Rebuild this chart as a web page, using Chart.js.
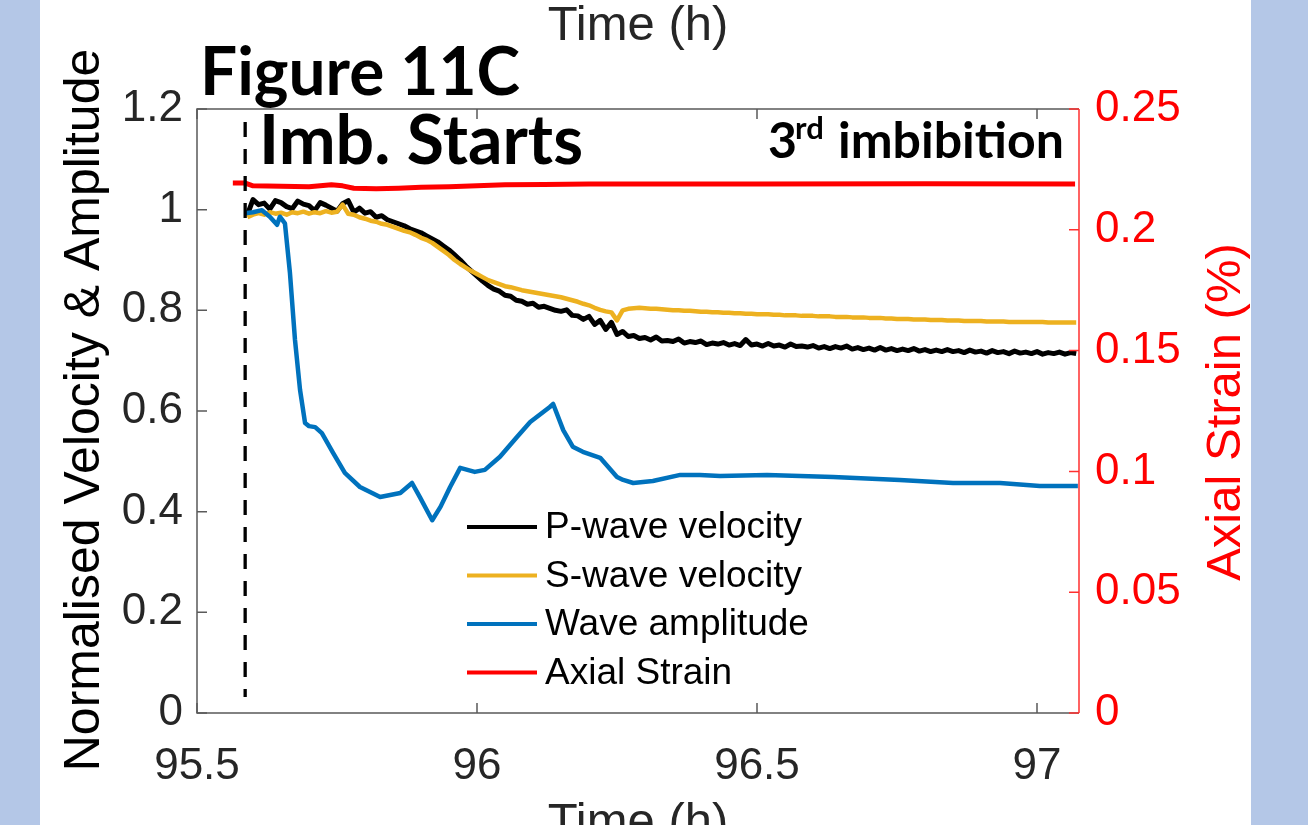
<!DOCTYPE html>
<html>
<head>
<meta charset="utf-8">
<title>Figure 11C</title>
<script src="https://cdn.jsdelivr.net/npm/chart.js@4.4.1/dist/chart.umd.min.js"></script>
<style>
  html, body { margin: 0; padding: 0; background: #fff; }
  #wrap { width: 1308px; height: 825px; }
</style>
</head>
<body>
<div id="wrap"><canvas id="myChart" width="1308" height="825"></canvas></div>
<script>
/* data */

// shared time base (h) for the P- and S-wave velocity records
const sampleTimes = [
  95.59, 95.60, 95.61, 95.62, 95.63, 95.64, 95.65, 95.66, 95.67, 95.68,
  95.69, 95.70, 95.71, 95.72, 95.73, 95.74, 95.75, 95.76, 95.77, 95.78,
  95.79, 95.80, 95.81, 95.82, 95.83, 95.84, 95.85, 95.86, 95.87, 95.88,
  95.89, 95.90, 95.91, 95.92, 95.93, 95.94, 95.95, 95.96, 95.97, 95.98,
  95.99, 96.00, 96.01, 96.02, 96.03, 96.04, 96.05, 96.06, 96.07, 96.08,
  96.09, 96.10, 96.11, 96.12, 96.13, 96.14, 96.15, 96.16, 96.17, 96.18,
  96.19, 96.20, 96.21, 96.22, 96.23, 96.24, 96.25, 96.26, 96.27, 96.28,
  96.29, 96.30, 96.31, 96.32, 96.33, 96.34, 96.35, 96.36, 96.37, 96.38,
  96.39, 96.40, 96.41, 96.42, 96.43, 96.44, 96.45, 96.46, 96.47, 96.48,
  96.49, 96.50, 96.51, 96.52, 96.53, 96.54, 96.55, 96.56, 96.57, 96.58,
  96.59, 96.60, 96.61, 96.62, 96.63, 96.64, 96.65, 96.66, 96.67, 96.68,
  96.69, 96.70, 96.71, 96.72, 96.73, 96.74, 96.75, 96.76, 96.77, 96.78,
  96.79, 96.80, 96.81, 96.82, 96.83, 96.84, 96.85, 96.86, 96.87, 96.88,
  96.89, 96.90, 96.91, 96.92, 96.93, 96.94, 96.95, 96.96, 96.97, 96.98,
  96.99, 97.00, 97.01, 97.02, 97.03, 97.04, 97.05, 97.06, 97.07
];

const pWave = [
  0.990, 1.020, 1.010, 1.013, 1.001, 1.018, 1.014, 1.006, 1.002, 1.017,
  1.011, 1.008, 0.998, 1.014, 1.009, 1.003, 0.997, 1.012, 1.018, 0.995,
  1.003, 0.993, 0.996, 0.985, 0.988, 0.980, 0.976, 0.972, 0.968, 0.962,
  0.958, 0.954, 0.948, 0.942, 0.936, 0.928, 0.920, 0.910, 0.900, 0.888,
  0.878, 0.868, 0.858, 0.849, 0.842, 0.838, 0.830, 0.828, 0.820, 0.818,
  0.812, 0.814, 0.806, 0.808, 0.804, 0.800, 0.798, 0.801, 0.790, 0.789,
  0.782, 0.788, 0.772, 0.780, 0.762, 0.776, 0.752, 0.758, 0.748, 0.750,
  0.744, 0.746, 0.741, 0.747, 0.739, 0.740, 0.738, 0.743, 0.735, 0.738,
  0.736, 0.739, 0.732, 0.735, 0.733, 0.736, 0.731, 0.734, 0.730, 0.742,
  0.731, 0.733, 0.729, 0.734, 0.729, 0.731, 0.727, 0.733, 0.728, 0.729,
  0.727, 0.730, 0.725, 0.728, 0.724, 0.728, 0.725, 0.729, 0.723, 0.726,
  0.722, 0.725, 0.721, 0.726, 0.721, 0.724, 0.720, 0.723, 0.720, 0.724,
  0.719, 0.722, 0.718, 0.721, 0.718, 0.722, 0.718, 0.720, 0.716, 0.721,
  0.717, 0.719, 0.715, 0.720, 0.716, 0.718, 0.714, 0.719, 0.715, 0.717,
  0.714, 0.718, 0.713, 0.716, 0.714, 0.717, 0.713, 0.716, 0.714
];

const sWave = [
  0.985, 0.990, 0.993, 0.990, 0.995, 0.992, 0.994, 0.990, 0.995, 0.993,
  0.996, 0.992, 0.995, 0.993, 0.997, 0.994, 0.996, 1.010, 0.992, 0.990,
  0.985, 0.982, 0.978, 0.976, 0.972, 0.970, 0.966, 0.962, 0.958, 0.955,
  0.950, 0.944, 0.940, 0.934, 0.926, 0.918, 0.910, 0.900, 0.892, 0.885,
  0.878, 0.872, 0.866, 0.860, 0.856, 0.852, 0.848, 0.846, 0.843, 0.840,
  0.838, 0.836, 0.834, 0.832, 0.830, 0.828, 0.826, 0.823, 0.820, 0.817,
  0.813, 0.810, 0.805, 0.801, 0.798, 0.796, 0.780, 0.800, 0.803, 0.804,
  0.805, 0.804, 0.803, 0.803, 0.802, 0.801, 0.800, 0.800, 0.799, 0.799,
  0.798, 0.797, 0.797, 0.796, 0.796, 0.795, 0.795, 0.794, 0.794, 0.793,
  0.793, 0.792, 0.792, 0.792, 0.791, 0.791, 0.790, 0.790, 0.790, 0.789,
  0.789, 0.789, 0.788, 0.788, 0.788, 0.787, 0.787, 0.787, 0.786, 0.786,
  0.786, 0.785, 0.785, 0.785, 0.784, 0.784, 0.783, 0.783, 0.783, 0.782,
  0.782, 0.782, 0.781, 0.781, 0.781, 0.780, 0.780, 0.780, 0.779, 0.779,
  0.779, 0.779, 0.778, 0.778, 0.778, 0.778, 0.777, 0.777, 0.777, 0.777,
  0.777, 0.777, 0.777, 0.776, 0.776, 0.776, 0.776, 0.776, 0.776
];

// wave amplitude (normalised)
const ampTime = [
  95.586, 95.600, 95.616, 95.630, 95.643, 95.648, 95.657, 95.666, 95.675, 95.684,
  95.693, 95.700, 95.711, 95.723, 95.743, 95.764, 95.791, 95.827, 95.863, 95.884,
  95.898, 95.920, 95.935, 95.952, 95.970, 95.996, 96.014, 96.041, 96.071, 96.095,
  96.130, 96.136, 96.154, 96.171, 96.189, 96.220, 96.250, 96.261, 96.279, 96.314,
  96.363, 96.398, 96.434, 96.518, 96.636, 96.755, 96.850, 96.934, 97.005, 97.073
];
const amplitude = [
  0.993, 0.995, 0.999, 0.986, 0.970, 0.986, 0.973, 0.874, 0.741, 0.642,
  0.576, 0.570, 0.568, 0.556, 0.517, 0.477, 0.449, 0.429, 0.437, 0.457,
  0.429, 0.383, 0.410, 0.449, 0.487, 0.479, 0.483, 0.509, 0.548, 0.578,
  0.608, 0.614, 0.562, 0.529, 0.519, 0.507, 0.469, 0.463, 0.457, 0.461,
  0.473, 0.473, 0.471, 0.473, 0.469, 0.463, 0.457, 0.457, 0.451, 0.451
];

// axial strain (%), right axis
const strainTime = [
  95.564, 95.585, 95.600, 95.650, 95.700, 95.740, 95.760, 95.780, 95.820, 95.860,
  95.900, 95.950, 96.000, 96.050, 96.120, 96.200, 96.500, 96.800, 97.068
];
const strain = [
  0.2194, 0.2194, 0.2182, 0.2180, 0.2178, 0.2186, 0.2182, 0.2172, 0.2170, 0.2172,
  0.2176, 0.2178, 0.2182, 0.2186, 0.2188, 0.2190, 0.2190, 0.2191, 0.2190
];

// imbibition start marker
const imbTime = 95.586;
const imbSpan = [1.174, 0.032];

// axes
const timeTicks = [95.5, 96, 96.5, 97];
const timeTickLabels = ['95.5', '96', '96.5', '97'];
const leftTicks = [0, 0.2, 0.4, 0.6, 0.8, 1, 1.2];
const leftTickLabels = ['0', '0.2', '0.4', '0.6', '0.8', '1', '1.2'];
const rightTicks = [0, 0.05, 0.1, 0.15, 0.2, 0.25];
const rightTickLabels = ['0', '0.05', '0.1', '0.15', '0.2', '0.25'];

const seriesLabels = ['P-wave velocity', 'S-wave velocity', 'Wave amplitude', 'Axial Strain'];
const seriesColors = ['#000000', '#EDB120', '#0072BD', '#FF0000'];

/* helpers */

function pairs(xs, ys) {
  return xs.map(function (x, i) { return { x: x, y: ys[i] }; });
}

const AXIS_FONT = "'Liberation Sans', Arial, sans-serif";
const BOLD_FONT = "Lato, 'Open Sans', sans-serif";
const TICK_GREY = '#262626';

/* drawing extras: background strips, box, inward ticks, legend, texts */

const decor = {
  id: 'decor',
  beforeDraw(chart) {
    const ctx = chart.ctx;
    ctx.save();
    ctx.fillStyle = '#ffffff';
    ctx.fillRect(0, 0, chart.width, chart.height);
    ctx.fillStyle = '#B4C7E7';
    ctx.fillRect(0, 0, 40, chart.height);
    ctx.fillRect(1251, 0, chart.width - 1251, chart.height);
    ctx.restore();
  },
  afterDatasetsDraw(chart) {
    const ctx = chart.ctx;
    const a = chart.chartArea;
    const sx = chart.scales.x, sy = chart.scales.y, sy2 = chart.scales.y2;
    ctx.save();

    // box
    ctx.strokeStyle = '#5a5a5a';
    ctx.lineWidth = 1.5;
    ctx.beginPath();
    ctx.moveTo(a.right, a.top);
    ctx.lineTo(a.left, a.top);
    ctx.lineTo(a.left, a.bottom);
    ctx.lineTo(a.right, a.bottom);
    ctx.stroke();

    // inward ticks
    ctx.beginPath();
    timeTicks.forEach(function (t) {
      const px = sx.getPixelForValue(t);
      ctx.moveTo(px, a.bottom); ctx.lineTo(px, a.bottom - 10);
      ctx.moveTo(px, a.top); ctx.lineTo(px, a.top + 10);
    });
    leftTicks.forEach(function (v) {
      const py = sy.getPixelForValue(v);
      ctx.moveTo(a.left, py); ctx.lineTo(a.left + 10, py);
    });
    ctx.stroke();

    ctx.strokeStyle = '#FF3030';
    ctx.beginPath();
    ctx.moveTo(a.right, a.top); ctx.lineTo(a.right, a.bottom);
    rightTicks.forEach(function (v) {
      const py = sy2.getPixelForValue(v);
      ctx.moveTo(a.right, py); ctx.lineTo(a.right - 10, py);
    });
    ctx.stroke();

    // legend (no box)
    ctx.font = '37px ' + AXIS_FONT;
    ctx.textBaseline = 'middle';
    ctx.textAlign = 'left';
    seriesLabels.forEach(function (lbl, i) {
      const y = 527 + i * 48.5;
      ctx.strokeStyle = seriesColors[i];
      ctx.lineWidth = 4;
      ctx.beginPath();
      ctx.moveTo(467, y); ctx.lineTo(537, y);
      ctx.stroke();
      ctx.fillStyle = '#000';
      ctx.fillText(lbl, 545, y + 1);
    });
    ctx.restore();
  },
  afterDraw(chart) {
    const ctx = chart.ctx;
    const a = chart.chartArea;
    const cx = (a.left + a.right) / 2;
    ctx.save();

    // x-axis titles (one leaking in from the panel above, one cut at the bottom)
    ctx.fillStyle = '#262626';
    ctx.font = '49px ' + AXIS_FONT;
    ctx.textAlign = 'center';
    ctx.textBaseline = 'alphabetic';
    ctx.fillText('Time (h)', cx, 40);
    ctx.fillText('Time (h)', cx, 837);

    // y-axis titles
    ctx.textBaseline = 'middle';
    ctx.save();
    ctx.translate(85, 410);
    ctx.rotate(-Math.PI / 2);
    ctx.fillStyle = '#000';
    ctx.font = '50px ' + AXIS_FONT;
    ctx.fillText('Normalised Velocity & Amplitude', 0, 0);
    ctx.restore();

    ctx.save();
    ctx.translate(1226, 412);
    ctx.rotate(-Math.PI / 2);
    ctx.fillStyle = '#FF0000';
    ctx.font = '49px ' + AXIS_FONT;
    ctx.fillText('Axial Strain (%)', 0, 0);
    ctx.restore();

    // annotations
    ctx.fillStyle = '#000';
    ctx.textAlign = 'left';
    ctx.textBaseline = 'alphabetic';
    ctx.font = 'bold 67px ' + BOLD_FONT;
    ctx.fillText('Figure 11C', 200, 95, 320);
    ctx.font = 'bold 68px ' + BOLD_FONT;
    ctx.fillText('Imb. Starts', 259, 164, 334);
    ctx.font = 'bold 50px ' + BOLD_FONT;
    ctx.fillText('3', 768, 158);
    ctx.fillText('imbibition', 838, 158, 226);
    ctx.font = 'bold 31px ' + BOLD_FONT;
    ctx.fillText('rd', 795, 139);
    ctx.restore();
  }
};

/* chart */

const ctx = document.getElementById('myChart').getContext('2d');

const lineStyle = {
  pointRadius: 0,
  tension: 0,
  fill: false,
  borderWidth: 4.5,
  borderJoinStyle: 'round',
};

const chart = new Chart(ctx, {
  type: 'line',
  data: {
    datasets: [
      Object.assign({}, lineStyle, {
        label: seriesLabels[0],
        data: pairs(sampleTimes, pWave),
        borderColor: seriesColors[0],
        yAxisID: 'y',
        order: 4,
        borderWidth: 5,
      }),
      Object.assign({}, lineStyle, {
        label: seriesLabels[1],
        data: pairs(sampleTimes, sWave),
        borderColor: seriesColors[1],
        yAxisID: 'y',
        order: 3,
      }),
      Object.assign({}, lineStyle, {
        label: seriesLabels[2],
        data: pairs(ampTime, amplitude),
        borderColor: seriesColors[2],
        yAxisID: 'y',
        order: 2,
      }),
      Object.assign({}, lineStyle, {
        label: seriesLabels[3],
        data: pairs(strainTime, strain),
        borderColor: seriesColors[3],
        yAxisID: 'y2',
        order: 1,
        borderWidth: 5,
      }),
      Object.assign({}, lineStyle, {
        label: '',
        data: pairs([imbTime, imbTime], imbSpan),
        borderColor: '#000000',
        borderDash: [15, 12],
        yAxisID: 'y',
        order: 0,
        borderWidth: 3.3,
      }),
    ]
  },
  options: {
    responsive: false,
    animation: false,
    events: [],
    layout: { padding: { top: 109, left: 0, right: 0, bottom: 0 } },
    plugins: {
      legend: { display: false },
      tooltip: { enabled: false },
    },
    scales: {
      x: {
        type: 'linear',
        min: 95.5,
        max: 97.075,
        grid: { display: false },
        border: { display: false },
        afterBuildTicks: function (scale) {
          scale.ticks = timeTicks.map(function (v) { return { value: v }; });
        },
        afterFit: function (scale) { scale.height = 112; },
        ticks: {
          padding: 19,
          maxRotation: 0,
          color: TICK_GREY,
          font: { family: AXIS_FONT, size: 44 },
          callback: function (v) { return timeTickLabels[timeTicks.indexOf(v)]; },
        },
      },
      y: {
        position: 'left',
        min: 0,
        max: 1.2,
        grid: { display: false },
        border: { display: false },
        afterBuildTicks: function (scale) {
          scale.ticks = leftTicks.map(function (v) { return { value: v }; });
        },
        afterFit: function (scale) { scale.width = 197; },
        ticks: {
          padding: 6,
          color: TICK_GREY,
          font: { family: AXIS_FONT, size: 44 },
          callback: function (v) { return leftTickLabels[leftTicks.indexOf(v)]; },
        },
      },
      y2: {
        position: 'right',
        min: 0,
        max: 0.25,
        grid: { display: false },
        border: { display: false },
        afterBuildTicks: function (scale) {
          scale.ticks = rightTicks.map(function (v) { return { value: v }; });
        },
        afterFit: function (scale) { scale.width = 229; },
        ticks: {
          padding: 8,
          color: '#FF0000',
          font: { family: AXIS_FONT, size: 44 },
          callback: function (v) { return rightTickLabels[rightTicks.indexOf(v)]; },
        },
      },
    },
  },
  plugins: [decor],
});
</script>
</body>
</html>
